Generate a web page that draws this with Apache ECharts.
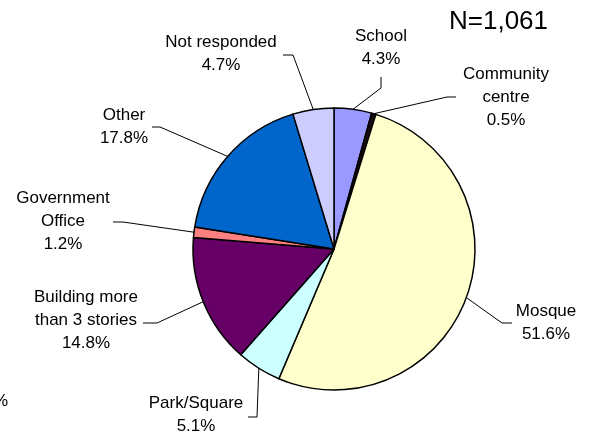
<!DOCTYPE html>
<html>
<head>
<meta charset="utf-8">
<script src="https://cdn.jsdelivr.net/npm/echarts@6/dist/echarts.min.js"></script>
<style>
  html, body { margin: 0; padding: 0; background: #ffffff; }
  #chart { width: 595px; height: 434px; }
</style>
</head>
<body>
<div id="chart"></div>
<script>
// Place where people would go, share of respondents (%)
const categories = [
  'School',
  'Community\ncentre',
  'Mosque',
  'Park/Square',
  'Building more\nthan 3 stories',
  'Government\nOffice',
  'Other',
  'Not responded'
];
const shares = [4.3, 0.5, 51.6, 5.1, 14.8, 1.2, 17.8, 4.7];
const sampleSize = 'N=1,061';

const sliceColors = ['#9999FF', '#1a0a12', '#FFFFCC', '#CCFFFF', '#660066', '#FF8080', '#0066CC', '#CCCCFF'];
const FONT = "'Liberation Sans', Arial, Helvetica, sans-serif";

const PIE_CENTER = [334, 249];
const PIE_RADIUS = 141;
const START_ANGLE = 90;

// Where each label block sits, plus the bend and the end of its leader line
const labelSpots = [
  { x: 381, y: 48,  bend: [381, 88],  end: [381, 77] },
  { x: 506, y: 97,  bend: [447, 97],  end: [456, 97] },
  { x: 546, y: 323, bend: [502, 323], end: [512, 323] },
  { x: 196, y: 415, bend: [257, 417], end: [248, 417] },
  { x: 86,  y: 320, bend: [157, 323], end: [143, 323] },
  { x: 63,  y: 221, bend: [123, 222], end: [113, 222] },
  { x: 124, y: 127, bend: [160, 127], end: [152, 127] },
  { x: 221, y: 54,  bend: [293, 55],  end: [283, 55] }
];

// Point on the rim at the middle of slice i (clockwise from START_ANGLE)
const total = shares.reduce((a, b) => a + b, 0);
function rimPoint(i) {
  let before = 0;
  for (let k = 0; k < i; k++) before += shares[k];
  const mid = (before + shares[i] / 2) / total * 360;
  const rad = (START_ANGLE - mid) * Math.PI / 180;
  return [PIE_CENTER[0] + PIE_RADIUS * Math.cos(rad), PIE_CENTER[1] - PIE_RADIUS * Math.sin(rad)];
}

const chart = echarts.init(document.getElementById('chart'), null, { renderer: 'canvas' });

chart.setOption({
  animation: false,
  backgroundColor: '#ffffff',
  title: {
    text: sampleSize,
    left: 449,
    top: 9,
    padding: 0,
    textStyle: { fontFamily: FONT, fontSize: 26, fontWeight: 'normal', color: '#000000' }
  },
  graphic: [{
    type: 'text',
    left: -7,
    top: 393,
    style: { text: '%', font: "17px 'Liberation Sans', Arial, sans-serif", fill: '#000000' }
  }],
  series: [{
    type: 'pie',
    center: PIE_CENTER,
    radius: PIE_RADIUS,
    startAngle: START_ANGLE,
    clockwise: true,
    avoidLabelOverlap: false,
    emphasis: { disabled: true },
    itemStyle: { borderColor: '#000000', borderWidth: 1.5 },
    label: {
      show: true,
      position: 'outside',
      formatter: '{b}\n{c}%',
      fontFamily: FONT,
      fontSize: 17,
      lineHeight: 23,
      color: '#000000',
      align: 'center'
    },
    labelLine: {
      show: true,
      length: 10,
      length2: 10,
      lineStyle: { color: '#000000', width: 1 }
    },
    labelLayout: function (params) {
      const s = labelSpots[params.dataIndex];
      return {
        x: s.x,
        y: s.y,
        align: 'center',
        verticalAlign: 'middle',
        labelLinePoints: [rimPoint(params.dataIndex), s.bend, s.end]
      };
    },
    data: categories.map((name, i) => ({
      name: name,
      value: shares[i],
      itemStyle: { color: sliceColors[i] }
    }))
  }]
});
</script>
</body>
</html>
